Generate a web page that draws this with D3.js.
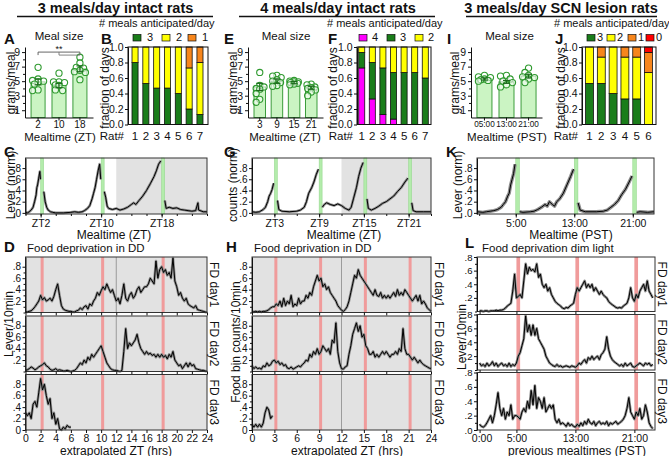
<!DOCTYPE html>
<html><head><meta charset="utf-8">
<script src="https://cdn.jsdelivr.net/npm/d3@7"></script>
<style>body{margin:0;background:#fff}</style>
</head><body><svg id="c" width="669" height="456"></svg>
<script>
// ================= DATA =================
const headers = ["3 meals/day intact rats", "4 meals/day intact rats", "3 meals/day SCN lesion rats"];
const legendTitle = "# meals anticipated/day";

// A: meal size, 3 meals/day intact
const mealTimesA = ["2", "10", "18"];
const meanA = [4.9, 4.4, 6.7];
const semA = [0.4, 0.3, 0.4];
const ratsA = [[6.9, 5.3, 5.0, 4.9, 4.6, 3.8, 3.7, 5.1], [6.1, 4.9, 4.8, 4.5, 4.4, 3.8, 3.7, 4.9], [8.3, 7.5, 6.9, 6.8, 6.5, 6.3, 5.2, 6.2]];
// E: meal size, 4 meals/day intact
const mealTimesE = ["3", "9", "15", "21"];
const meanE = [4.2, 5.0, 4.8, 4.1];
const semE = [0.5, 0.3, 0.15, 0.2];
const ratsE = [[6.2, 4.4, 4.2, 3.9, 3.3, 2.5, 2.1, 4.0], [5.8, 5.7, 5.5, 5.2, 5.0, 4.4, 4.3, 4.8], [5.1, 5.0, 4.9, 4.9, 4.7, 4.6, 4.5, 4.8], [4.6, 4.5, 4.2, 4.0, 3.8, 3.5, 3.0, 4.1]];
// I: meal size, SCN lesion
const mealTimesI = ["05:00", "13:00", "21:00"];
const meanI = [5.3, 4.9, 5.7];
const semI = [0.15, 0.2, 0.25];
const ratsI = [[5.8, 5.6, 5.5, 5.3, 5.2, 5.1, 5.0], [5.8, 5.7, 5.3, 5.0, 4.8, 4.5, 4.2], [6.8, 6.2, 5.8, 5.6, 5.5, 5.3, 4.8]];

// B: fraction of days by # meals anticipated
const ratsB = ["1", "2", "3", "4", "5", "6", "7"];
const keysB = ["3", "2", "1"];
const b3 = [0.8, 0.53, 0.47, 0.47, 0.4, 0.2, 0.13];
const b2 = [0.2, 0.47, 0.53, 0.53, 0.6, 0.53, 0.67];
const b1 = [0, 0, 0, 0, 0, 0.27, 0.2];
// F
const ratsF = ["1", "2", "3", "4", "5", "6", "7"];
const keysF = ["4", "3", "2"];
const f4 = [0.73, 0.33, 0.13, 0.07, 0, 0, 0];
const f3 = [0.2, 0.47, 0.6, 0.6, 0.67, 0.67, 0.6];
const f2 = [0.07, 0.2, 0.27, 0.33, 0.33, 0.33, 0.4];
// J
const ratsJ = ["1", "2", "3", "4", "5", "6"];
const keysJ = ["3", "2", "1", "0"];
const j3 = [0.53, 0.53, 0.4, 0.33, 0.33, 0];
const j2 = [0.47, 0.34, 0.6, 0.54, 0.54, 0.67];
const j1 = [0, 0.13, 0, 0.13, 0.13, 0.26];
const j0 = [0, 0, 0, 0, 0, 0.07];

// C/G/K: normalized anticipatory activity [time (h), value]; null = meal
const mealsC = [2, 10, 18];
const leverC = [[0,0.01],[0.25,0.0],[0.5,0.02],[0.75,0.05],[1,0.1],[1.2,0.2],[1.4,0.32],[1.5,0.45],[1.6,0.5],[1.75,0.62],[1.9,0.74],[1.98,0.6],[2.0,null],[2.42,0.38],[2.6,0.2],[2.8,0.1],[3.0,0.05],[3.3,0.02],[3.6,0.01],[4,0.0],[5,0.0],[6,0.01],[6.5,0.02],[7,0.01],[7.5,0.02],[7.8,0.04],[8.2,0.08],[8.5,0.13],[8.8,0.25],[9.0,0.35],[9.2,0.45],[9.4,0.6],[9.6,0.75],[9.8,0.87],[9.95,0.6],[10,null],[10.42,0.38],[10.6,0.28],[10.8,0.12],[11,0.08],[11.5,0.06],[12,0.08],[12.5,0.05],[13,0.07],[13.5,0.1],[14,0.15],[14.3,0.18],[14.6,0.15],[15,0.22],[15.5,0.3],[16,0.4],[16.5,0.52],[17,0.65],[17.3,0.75],[17.6,0.87],[17.9,0.93],[18,null],[18.42,0.22],[18.6,0.08],[19,0.1],[19.5,0.08],[20,0.09],[20.5,0.06],[21,0.05],[21.5,0.04],[22,0.03],[22.5,0.04],[22.8,0.18],[22.9,0.05],[23.5,0.02],[24,0.02]];
const mealsG = [3, 9, 15, 21];
const countsG = [[0,0.02],[0.5,0.01],[1,0.02],[1.5,0.06],[1.8,0.1],[2.1,0.2],[2.3,0.3],[2.5,0.35],[2.7,0.42],[2.9,0.53],[3,null],[3.42,0.22],[3.6,0.06],[4,0.03],[5,0.02],[6,0.03],[6.5,0.05],[7,0.1],[7.3,0.2],[7.6,0.35],[8,0.45],[8.3,0.55],[8.6,0.68],[8.9,0.78],[9,null],[9.42,0.1],[9.7,0.15],[10,0.18],[10.5,0.15],[11,0.13],[11.5,0.16],[12,0.13],[12.5,0.08],[13,0.05],[13.3,0.1],[13.6,0.25],[14,0.45],[14.3,0.65],[14.6,0.8],[14.9,0.9],[15,null],[15.42,0.25],[15.6,0.08],[16,0.05],[16.5,0.08],[17,0.12],[17.5,0.17],[18,0.2],[18.5,0.25],[19,0.3],[19.5,0.38],[20,0.45],[20.5,0.55],[20.9,0.62],[21,null],[21.42,0.18],[21.6,0.04],[22,0.02],[23,0.02],[24,0.02]];
const mealsK = [5, 13, 21];
const leverK = [[-0.3,0.02],[0.5,0.01],[1,0.02],[1.5,0.03],[2,0.04],[2.5,0.06],[3,0.1],[3.3,0.15],[3.6,0.2],[3.9,0.3],[4.1,0.35],[4.3,0.5],[4.5,0.6],[4.7,0.7],[4.9,0.87],[5,null],[5.52,0.02],[6,0.01],[7,0.02],[7.5,0.03],[8,0.06],[8.5,0.1],[9,0.15],[9.3,0.12],[9.6,0.2],[10,0.15],[10.3,0.12],[10.6,0.2],[11,0.25],[11.5,0.35],[12,0.5],[12.5,0.65],[12.9,0.78],[13,null],[13.52,0.18],[13.8,0.05],[14.5,0.02],[16,0.02],[17,0.03],[17.5,0.05],[18,0.1],[18.5,0.15],[19,0.22],[19.5,0.33],[20,0.42],[20.5,0.55],[20.9,0.66],[21,null],[21.52,0.01],[22,0.02],[23,0.01],[23.9,0.02]];

// D/H/L: food deprivation, values every 0.25 h starting at 0
const fdD1 = [0.01,0.01,0.02,0.03, 0.06,0.1,0.15,0.2, 0.3,0.22,0.26,0.2, 0.22,0.25,0.2,0.28, 0.4,0.5,0.3,0.12, 0.06,0.04,0.03,0.02, 0.02,0.01,0.01,0.03, 0.04,0.08,0.05,0.1, 0.12,0.06,0.15,0.12, 0.2,0.25,0.35,0.3, 0.38,0.45,0.4,0.5, 0.42,0.35,0.4,0.3, 0.2,0.25,0.15,0.3, 0.5,0.25,0.2,0.3, 0.35,0.25,0.3,0.4, 0.45,0.35,0.4,0.45, 0.45,0.5,0.6,0.55, 0.5,0.9,0.6,0.75, 0.8,0.7,0.75,0.65, 0.7,0.6,0.95,0.55, 0.45,0.3,0.35,0.25, 0.2,0.25,0.15,0.12, 0.1,0.08,0.12,0.05, 0.04,0.03,0.02,0.01, 0.0];
const fdD2 = [0.02,0.03,0.05,0.08, 0.06,0.03,0.05,0.08, 0.1,0.12,0.15,0.1, 0.08,0.04,0.02,0.03, 0.05,0.02,0.03,0.02, 0.01,0.01,0.02,0.01, 0.0,0.01,0.02,0.05, 0.1,0.15,0.12,0.2, 0.15,0.25,0.2,0.3, 0.25,0.3,0.35,0.4, 0.45,0.35,0.25,0.15, 0.1,0.05,0.03,0.02, 0.02,0.01,0.0,0.02, 0.35,0.75,0.4,0.5, 0.45,0.5,0.55,0.65, 0.5,0.4,0.35,0.3, 0.35,0.3,0.32,0.28, 0.3,0.25,0.3,0.25, 0.3,0.25,0.28,0.22, 0.3,0.25,0.35,0.2, 0.15,0.1,0.12,0.05, 0.1,0.15,0.08,0.15, 0.1,0.12,0.05,0.04, 0.03,0.02,0.02,0.01, 0.0];
const fdD3 = [0.3,0.25,0.3,0.2, 0.45,0.5,0.4,0.65, 0.9,0.7,0.8,0.6, 0.45,0.55,0.2,0.3, 0.1,0.2,0.02,0.0, 0.05,0.02,0.08,0.05, 0.05];
const fdH1 = [0.02,0.01,0.02,0.01, 0.02,0.01,0.02,0.02, 0.03,0.05,0.08,0.1, 0.1,0.15,0.12,0.2, 0.1,0.25,0.12,0.2, 0.15,0.3,0.1,0.15, 0.12,0.25,0.15,0.2, 0.2,0.3,0.25,0.35, 0.3,0.45,0.55,0.65, 0.55,0.6,0.45,0.5, 0.4,0.45,0.35,0.3, 0.25,0.2,0.12,0.08, 0.04,0.02,0.05,0.1, 0.2,0.35,0.5,0.65, 0.6,0.75,0.65,0.6, 0.55,0.5,0.45,0.4, 0.35,0.3,0.4,0.3, 0.28,0.35,0.25,0.3, 0.25,0.3,0.25,0.3, 0.35,0.28,0.4,0.3, 0.35,0.3,0.4,0.35, 0.3,0.25,0.2,0.25, 0.3,0.2,0.3,0.15, 0.2,0.15,0.08,0.05, 0.02];
const fdH2 = [0.1,0.05,0.08,0.05, 0.06,0.04,0.1,0.08, 0.15,0.1,0.12,0.18, 0.2,0.15,0.18,0.12, 0.15,0.1,0.12,0.06, 0.05,0.08,0.04,0.06, 0.08,0.1,0.08,0.12, 0.15,0.2,0.18,0.3, 0.25,0.35,0.3,0.4, 0.3,0.35,0.45,0.4, 0.35,0.4,0.3,0.55, 0.5,0.85,0.35,0.15, 0.05,0.04,0.08,0.1, 0.3,0.45,0.65,0.75, 0.85,0.7,0.8,0.6, 0.65,0.45,0.4,0.3, 0.3,0.35,0.25,0.3, 0.25,0.3,0.35,0.3, 0.35,0.3,0.25,0.3, 0.3,0.35,0.3,0.4, 0.35,0.75,0.4,0.3, 0.3,0.25,0.2,0.25, 0.2,0.15,0.2,0.15, 0.12,0.1,0.08,0.06, 0.05];
const fdH3 = [0.1,0.05,0.1,0.05, 0.1,0.05,0.12,0.3, 0.4,0.35,0.2,0.25];
const fdL1 = [0.01,0.01,0.0,0.01, 0.01,0.0,0.01,0.01, 0.01,0.02,0.01,0.02, 0.02,0.03,0.05,0.08, 0.1,0.12,0.3,0.55, 0.2,0.22,0.25,0.2, 0.45,0.7,0.55,0.65, 0.6,0.62,0.58,0.7, 0.5,0.55,0.4,0.35, 0.4,0.3,0.35,0.25, 0.2,0.15,0.12,0.1, 0.08,0.05,0.04,0.06, 0.05,0.08,0.1,0.12, 0.25,0.35,0.3,0.35, 0.4,0.45,0.35,0.4, 0.35,0.4,0.3,0.35, 0.3,0.25,0.3,0.25, 0.22,0.2,0.15,0.12, 0.1,0.08,0.06,0.05, 0.06,0.05,0.08,0.1, 0.12,0.2,0.35,0.2, 0.15,0.25,0.2,0.3, 0.35,0.4,0.3,0.45, 0.3,0.25,0.2];
const fdL2 = [0.1,0.06,0.08,0.05, 0.1,0.06,0.08,0.12, 0.06,0.1,0.05,0.08, 0.1,0.06,0.08,0.05, 0.1,0.05,0.08,0.06, 0.1,0.2,0.25,0.35, 0.45,0.78,0.55,0.65, 0.5,0.65,0.5,0.6, 0.45,0.4,0.35,0.3, 0.2,0.15,0.1,0.08, 0.06,0.05,0.08,0.05, 0.06,0.04,0.05,0.06, 0.05,0.04,0.06,0.05, 0.04,0.06,0.1,0.08, 0.12,0.15,0.1,0.18, 0.15,0.2,0.15,0.18, 0.2,0.15,0.22,0.25, 0.3,0.48,0.3,0.2, 0.15,0.12,0.1,0.08, 0.06,0.08,0.05,0.1, 0.06,0.08,0.1,0.05, 0.04,0.06,0.08,0.1, 0.08,0.06,0.1,0.08, 0.1,0.06,0.08];
const fdL3 = [0.08,0.05,0.04,0.06, 0.1,0.15,0.2,0.1, 0.2,0.35,0.52,0.3, 0.2,0.3,0.15,0.25, 0.2,0.35,0.15,0.2, 0.2,0.18,0.15,0.25, 0.3,0.25,0.4,0.3, 0.55,0.35,0.62,0.3, 0.45,0.4,0.3,0.45, 0.25,0.3,0.35,0.3, 0.35,0.15,0.1,0.15, 0.08,0.1,0.08,0.05, 0.1,0.06,0.08,0.05, 0.04,0.08,0.05,0.1, 0.06,0.12,0.08,0.15, 0.1,0.08,0.12,0.06, 0.1,0.12,0.08,0.1, 0.08,0.12,0.06,0.1, 0.08,0.1,0.12,0.08, 0.1,0.12,0.15,0.2, 0.3,0.45,0.25,0.2, 0.15,0.25,0.2,0.3, 0.15,0.2,0.35,0.25, 0.1,0.05,0.02];
const binStep = 0.25;

// ================= DRAWING =================
const FONT = '"Liberation Sans", Arial, Helvetica, sans-serif';
const INK = "#111";
const svg = d3.select("#c").attr("font-family", FONT);

function txt(x, y, s, o = {}) {
  const t = svg.append("text").attr("x", x).attr("y", y).text(s)
    .attr("font-size", o.size || 11).attr("text-anchor", o.anchor || "start")
    .attr("font-weight", o.bold ? "bold" : "normal").attr("fill", INK);
  if (o.rot) t.attr("transform", `rotate(${o.rot},${x},${y})`);
  return t;
}
function styleAxis(g, fs) {
  g.attr("font-family", FONT).attr("font-size", fs);
  g.selectAll("path.domain").attr("stroke", INK).attr("stroke-width", 1);
  g.selectAll("line").attr("stroke", INK);
  g.selectAll("text").attr("fill", INK);
}
const fmtDot = d => d3.format(".1f")(d).replace(/^0/, "");

// headers
const headerPos = [[115.5, 17, 213], [338, 239, 435], [561, 466, 657]];
headers.forEach((h, i) => {
  txt(headerPos[i][0], 12.5, h, { size: 14.5, bold: true, anchor: "middle" });
  svg.append("line").attr("x1", headerPos[i][1]).attr("x2", headerPos[i][2]).attr("y1", 16.5).attr("y2", 16.5).attr("stroke", INK).attr("stroke-width", 1.3);
});

// ---------- bar + dot panels ----------
function barPanel(c) {
  const x = d3.scaleBand().domain(c.cats).range([c.left, c.right]).paddingInner(c.padIn).paddingOuter(c.padOut);
  const y = d3.scaleLinear().domain([0, c.ymax]).range([c.bottom, c.top]);
  const g = svg.append("g");
  g.selectAll(null).data(c.means).join("rect")
    .attr("x", (d, i) => x(c.cats[i])).attr("y", d => y(d)).attr("width", x.bandwidth()).attr("height", d => y(0) - y(d))
    .attr("fill", "#cbf4c3").attr("stroke", "#3c9c3c").attr("stroke-width", 1);
  const r = 3.1;
  const maxOff = x.bandwidth() / 2 - 1.5;
  c.pts.forEach((vals, i) => {
    const cx = x(c.cats[i]) + x.bandwidth() / 2;
    const placed = [];
    vals.slice().sort((a, b) => b - a).forEach(v => {
      const py = y(v);
      let best = cx, bestD = -1;
      for (const o of [0, -1, 1, -2, 2]) {
        const tx = cx + Math.max(-maxOff, Math.min(maxOff, o * 3.6));
        const dmin = placed.length ? d3.min(placed, p => Math.hypot(p[0] - tx, p[1] - py)) : 99;
        if (dmin >= 4.6) { best = tx; bestD = 99; break; }
        if (dmin > bestD) { bestD = dmin; best = tx; }
      }
      placed.push([best, py]);
    });
    g.selectAll(null).data(placed).join("circle").attr("cx", d => d[0]).attr("cy", d => d[1]).attr("r", r)
      .attr("fill", "#fff").attr("fill-opacity", 0.55).attr("stroke", "#2f9a2f").attr("stroke-width", 1.1);
  });
  c.means.forEach((m, i) => {
    const cx = x(c.cats[i]) + x.bandwidth() / 2;
    const e = c.sems[i];
    g.append("line").attr("x1", cx).attr("x2", cx).attr("y1", y(m - e)).attr("y2", y(m + e)).attr("stroke", "#1d6a1d").attr("stroke-width", 1.2);
    [m - e, m + e].forEach(v => g.append("line").attr("x1", cx - 3.5).attr("x2", cx + 3.5).attr("y1", y(v)).attr("y2", y(v)).attr("stroke", "#1d6a1d").attr("stroke-width", 1.2));
  });
  g.append("g").attr("transform", `translate(${c.left},0)`)
    .call(d3.axisLeft(y).tickValues([1, 3, 5, 7, 9]).tickSize(3).tickSizeOuter(0).tickPadding(2))
    .call(s => styleAxis(s, 10.5));
  g.append("g").attr("transform", `translate(${c.left},0)`)
    .call(d3.axisLeft(y).tickValues([2, 4, 6, 8]).tickSize(2).tickFormat(""))
    .call(s => { styleAxis(s, 10); s.select("path.domain").remove(); });
  g.append("g").attr("transform", `translate(0,${c.bottom})`)
    .call(d3.axisBottom(x).tickSize(3).tickSizeOuter(0).tickPadding(0.5))
    .call(s => styleAxis(s, c.xfs));
  txt(c.letterX, 43.5, c.letter, { size: 15, bold: true });
  txt(c.titleX, 40, "Meal size", { size: 11.5, anchor: "middle" });
  txt(c.ylabX, 83, "grams/meal", { size: 12, anchor: "middle", rot: -90 });
  txt(c.xlabX, 141, c.xlab, { size: 11.5, anchor: "middle" });
  return { x, y, g };
}

const pA = barPanel({ cats: mealTimesA, means: meanA, sems: semA, pts: ratsA, left: 25, right: 93, padIn: 0.33, padOut: 0.29, top: 47, bottom: 117.5, ymax: 9.7, letter: "A", letterX: 4, titleX: 59, ylabX: 15, xlab: "Mealtime (ZT)", xlabX: 60, xfs: 10 });
// significance bracket in A
{
  const cx = i => pA.x(mealTimesA[i]) + pA.x.bandwidth() / 2;
  const yb = pA.y(9.0);
  pA.g.append("path").attr("d", `M${cx(0)},${yb + 3}V${yb}H${cx(2)}V${yb + 3}`).attr("fill", "none").attr("stroke", "#555").attr("stroke-width", 0.9);
  pA.g.append("path").attr("d", `M${cx(1)},${yb}V${yb + 3}H${cx(2)}`).attr("fill", "none").attr("stroke", "#777").attr("stroke-width", 0.9);
  txt((cx(0) + cx(2)) / 2, yb - 0.5, "**", { size: 9, anchor: "middle" });
}
barPanel({ cats: mealTimesE, means: meanE, sems: semE, pts: ratsE, left: 248, right: 323, padIn: 0.33, padOut: 0.35, top: 47, bottom: 117.5, ymax: 9.7, letter: "E", letterX: 224, titleX: 286, ylabX: 237, xlab: "Mealtime (ZT)", xlabX: 285, xfs: 10 });
barPanel({ cats: mealTimesI, means: meanI, sems: semI, pts: ratsI, left: 471, right: 542, padIn: 0.32, padOut: 0.27, top: 47, bottom: 117.5, ymax: 9.7, letter: "I", letterX: 447, titleX: 509.5, ylabX: 459, xlab: "Mealtime (PST)", xlabX: 507, xfs: 8.2 });

// ---------- stacked fraction panels ----------
const colorOf = { "4": "#ff00ff", "3": "#1a7d1a", "2": "#ffff00", "1": "#f7861c", "0": "#ff0000" };
function stackPanel(c) {
  const x = d3.scaleBand().domain(c.rats).range([c.left, c.bandRight]).paddingInner(c.padIn).paddingOuter(c.padOut);
  const y = d3.scaleLinear().domain([0, 1]).range([c.bottom, c.top]);
  const rows = c.rats.map((r, i) => { const o = { rat: r }; c.keys.forEach((k, j) => o[k] = c.series[j][i]); return o; });
  const layers = d3.stack().keys(c.keys)(rows);
  const g = svg.append("g");
  layers.forEach(L => {
    g.selectAll(null).data(L.filter(d => d[1] - d[0] > 0.001)).join("rect")
      .attr("x", d => x(d.data.rat)).attr("width", x.bandwidth())
      .attr("y", d => y(Math.min(d[1], 1))).attr("height", d => y(d[0]) - y(Math.min(d[1], 1)))
      .attr("fill", colorOf[L.key]).attr("stroke", INK).attr("stroke-width", 0.8);
  });
  g.append("rect").attr("x", c.left).attr("y", c.top).attr("width", c.right - c.left).attr("height", c.bottom - c.top)
    .attr("fill", "none").attr("stroke", INK).attr("stroke-width", 1);
  g.append("g").attr("transform", `translate(${c.left},0)`)
    .call(d3.axisLeft(y).tickValues([0, 0.2, 0.4, 0.6, 0.8, 1.0]).tickFormat(d3.format(".1f")).tickSize(3).tickSizeOuter(0).tickPadding(1.5))
    .call(s => styleAxis(s, 10.5));
  g.selectAll(null).data(c.rats).join("text").attr("x", d => x(d) + x.bandwidth() / 2).attr("y", 140)
    .attr("text-anchor", "middle").attr("font-size", 11.5).attr("fill", INK).text(d => d);
  txt(c.left - 4, 140, "Rat#", { size: 11.5, anchor: "end" });
  txt(c.letterX, 43.5, c.letter, { size: 15, bold: true });
  txt(c.ylabX, 88, "fraction of days", { size: 12, anchor: "middle", rot: -90 });
  txt(c.legX, 27, legendTitle, { size: 11 });
  c.keys.forEach((k, i) => {
    g.append("rect").attr("x", c.legBox[i]).attr("y", 34.5).attr("width", 8).attr("height", 6.5)
      .attr("fill", colorOf[k]).attr("stroke", INK).attr("stroke-width", 0.7);
    txt(c.legBox[i] + c.legGap, 41, k, { size: 11 });
  });
}
stackPanel({ rats: ratsB, keys: keysB, series: [b3, b2, b1], left: 128, right: 208, bandRight: 207, padIn: 0.44, padOut: 0.37, top: 47, bottom: 124.5, letter: "B", letterX: 101, ylabX: 109, legX: 99, legBox: [133, 162, 188], legGap: 14 });
stackPanel({ rats: ratsF, keys: keysF, series: [f4, f3, f2], left: 357, right: 431, bandRight: 430, padIn: 0.43, padOut: 0.16, top: 47, bottom: 124.5, letter: "F", letterX: 328, ylabX: 337, legX: 327, legBox: [359, 387, 415], legGap: 13 });
stackPanel({ rats: ratsJ, keys: keysJ, series: [j3, j2, j1, j0], left: 582, right: 656, bandRight: 656, padIn: 0.33, padOut: 0.3, top: 47, bottom: 124.5, letter: "J", letterX: 555, ylabX: 565, legX: 554, legBox: [587, 607, 628, 646], legGap: 10 });

// ---------- anticipatory activity line panels ----------
function drawTrace(g, pts, x, y, semW) {
  const line = d3.line().defined(d => d[1] != null).x(d => x(d[0])).y(d => y(d[1]));
  g.append("path").attr("d", line(pts)).attr("fill", "none").attr("stroke", "#8c8c8c").attr("stroke-width", semW).attr("stroke-linejoin", "round");
  g.append("path").attr("d", line(pts)).attr("fill", "none").attr("stroke", "#000").attr("stroke-width", 1).attr("stroke-linejoin", "round");
}
function linePanel(c) {
  const x = d3.scaleLinear().domain(c.xdom).range([c.left, c.right]);
  const y = d3.scaleLinear().domain([-0.02, 0.98]).range([c.bottom, c.top]);
  const g = svg.append("g");
  if (c.shadeFrom != null) g.append("rect").attr("x", x(c.shadeFrom)).attr("y", c.top).attr("width", c.right - x(c.shadeFrom)).attr("height", c.bottom - c.top).attr("fill", "#e2e2e2");
  c.meals.forEach(t => g.append("rect").attr("x", x(t)).attr("width", x(t + c.bandW) - x(t)).attr("y", c.top).attr("height", c.bottom - c.top)
    .attr("fill", "#b3ecab").attr("stroke", "#8fd487").attr("stroke-width", 0.5));
  drawTrace(g, c.data, x, y, c.semW);
  g.append("rect").attr("x", c.left).attr("y", c.top).attr("width", c.right - c.left).attr("height", c.bottom - c.top).attr("fill", "none").attr("stroke", "#333").attr("stroke-width", 1);
  g.append("g").attr("transform", `translate(${c.left},0)`)
    .call(d3.axisLeft(y).tickValues([0, 0.2, 0.4, 0.6, 0.8]).tickFormat(fmtDot).tickSize(3).tickSizeOuter(0).tickPadding(1.5))
    .call(s => styleAxis(s, 10));
  g.append("g").attr("transform", `translate(0,${c.bottom})`)
    .call(d3.axisBottom(x).tickValues(c.minor).tickSize(2).tickFormat(""))
    .call(s => { styleAxis(s, 10); s.select("path.domain").remove(); });
  g.append("g").attr("transform", `translate(0,${c.bottom})`)
    .call(d3.axisBottom(x).tickValues(c.meals).tickFormat(c.fmt).tickSize(3.5).tickSizeOuter(0).tickPadding(2))
    .call(s => { styleAxis(s, 10.5); s.select("path.domain").remove(); });
  txt(c.letterX, 157, c.letter, { size: 15, bold: true });
  txt(c.ylabX, 185, c.ylab, { size: 12, anchor: "middle", rot: -90 });
  txt(c.xlabX, 239, c.xlab, { size: 12, anchor: "middle" });
}
linePanel({ data: leverC, meals: mealsC, bandW: 0.4, xdom: [0, 24], left: 25.5, right: 207, top: 158, bottom: 214, shadeFrom: 12, minor: d3.range(0, 25, 2), fmt: d => "ZT" + d, letter: "C", letterX: 4, ylab: "Lever (norm)", ylabX: 15, xlab: "Mealtime (ZT)", xlabX: 114, semW: 2.6 });
linePanel({ data: countsG, meals: mealsG, bandW: 0.4, xdom: [0, 24], left: 252, right: 431, top: 158, bottom: 214, shadeFrom: 12, minor: d3.range(0, 25, 3), fmt: d => "ZT" + d, letter: "G", letterX: 224, ylab: "counts (norm)", ylabX: 237, xlab: "Mealtime (ZT)", xlabX: 344, semW: 2.6 });
linePanel({ data: leverK, meals: mealsK, bandW: 0.5, xdom: [-0.3, 23.9], left: 477, right: 654, top: 158, bottom: 214, shadeFrom: null, minor: [0, 5, 13, 21], fmt: d => d + ":00", letter: "K", letterX: 446, ylab: "Lever (norm)", ylabX: 462, xlab: "Mealtime (PST)", xlabX: 571, semW: 3.4 });

// ---------- food deprivation panels ----------
function fdPanel(c) {
  const x = d3.scaleLinear().domain(c.xdom).range([c.left, c.right]);
  c.subs.forEach((s, si) => {
    const y = d3.scaleLinear().domain([0, c.ymax]).range([s.bottom, s.top]);
    const g = svg.append("g");
    if (c.bg) g.append("rect").attr("x", c.left).attr("y", s.top).attr("width", c.right - c.left).attr("height", s.bottom - s.top).attr("fill", c.bg);
    c.meals.forEach(t => g.append("rect").attr("x", x(t)).attr("width", x(t + c.bandW) - x(t)).attr("y", s.top).attr("height", s.bottom - s.top).attr("fill", "#f09b9b"));
    if (s.vline) g.append("line").attr("x1", x(12)).attr("x2", x(12)).attr("y1", s.top).attr("y2", s.bottom).attr("stroke", "#8a8a8a").attr("stroke-width", 0.8);
    const pts = s.data.map((v, i) => [i * binStep, v]);
    drawTrace(g, pts, x, y, 2.6);
    g.append("rect").attr("x", c.left).attr("y", s.top).attr("width", c.right - c.left).attr("height", s.bottom - s.top).attr("fill", "none").attr("stroke", "#333").attr("stroke-width", 1);
    const major = si === 2 ? [0, 0.2, 0.4, 0.6, 0.8] : [0.2, 0.4, 0.6, 0.8];
    g.append("g").attr("transform", `translate(${c.left},0)`)
      .call(d3.axisLeft(y).tickValues(major).tickFormat(c.yfmt).tickSize(3).tickSizeOuter(0).tickPadding(1.5))
      .call(a => styleAxis(a, c.yfs));
    g.append("g").attr("transform", `translate(${c.left},0)`)
      .call(d3.axisLeft(y).tickValues([0.1, 0.3, 0.5, 0.7].concat(si === 2 ? [] : [0])).tickSize(2).tickFormat(""))
      .call(a => { styleAxis(a, 10); a.select("path.domain").remove(); });
    const xa = g.append("g").attr("transform", `translate(0,${s.bottom})`)
      .call(d3.axisBottom(x).tickValues(c.xticks).tickSize(3).tickSizeOuter(0).tickPadding(1.5).tickFormat(c.xfmt))
      .call(a => { styleAxis(a, 10.5); a.select("path.domain").remove(); });
    if (si !== 2) xa.selectAll("text").remove();
    else xa.selectAll("text").attr("dx", d => d === c.xticks[0] ? c.firstDx : 0);
    txt(c.fdX, (s.top + s.bottom) / 2, "FD day" + (si + 1), { size: 12, anchor: "middle", rot: 90 });
  });
  txt(c.letterX, c.letterY, c.letter, { size: 15, bold: true });
  txt(c.titleX, 252, c.title, { size: 11.5 });
  txt(c.ylabX, c.ylabY, c.ylab, { size: 12, anchor: "middle", rot: -90 });
  txt(c.xlabX, 454.5, c.xlab, { size: 12, anchor: "middle" });
}
const subsDH = [{ top: 257, bottom: 312.5 }, { top: 316, bottom: 371.5 }, { top: 374.5, bottom: 430 }];
const zeroFmt = d => d === 0 ? "0" : fmtDot(d);
fdPanel({ xdom: [0, 24], left: 25.5, right: 207, ymax: 0.97, bg: "#e2e2e2", meals: mealsC, bandW: 0.4,
  subs: [{ ...subsDH[0], data: fdD1, vline: true }, { ...subsDH[1], data: fdD2, vline: true }, { ...subsDH[2], data: fdD3, vline: false }],
  xticks: d3.range(0, 25, 2), xfmt: d => d, yfmt: zeroFmt, yfs: 10, firstDx: 0, fdX: 210, letter: "D", letterX: 4, letterY: 252, title: "Food deprivation in DD", titleX: 27,
  ylab: "Lever/10min", ylabX: 13, ylabY: 324, xlab: "extrapolated ZT (hrs)", xlabX: 116 });
fdPanel({ xdom: [0, 24], left: 252, right: 431, ymax: 0.97, bg: "#e2e2e2", meals: mealsG, bandW: 0.4,
  subs: [{ ...subsDH[0], data: fdH1, vline: true }, { ...subsDH[1], data: fdH2, vline: true }, { ...subsDH[2], data: fdH3, vline: true }],
  xticks: d3.range(0, 25, 3), xfmt: d => d, yfmt: zeroFmt, yfs: 10, firstDx: 0, fdX: 435, letter: "H", letterX: 226, letterY: 252, title: "Food deprivation in DD", titleX: 254,
  ylab: "Food bin counts/10min", ylabX: 240, ylabY: 342, xlab: "extrapolated ZT (hrs)", xlabX: 347 });
fdPanel({ xdom: [-0.35, 23.8], left: 477, right: 655, ymax: 0.8, bg: null, meals: mealsK, bandW: 0.5,
  subs: [{ top: 257, bottom: 311.5, data: fdL1 }, { top: 314.5, bottom: 370, data: fdL2 }, { top: 372.5, bottom: 430, data: fdL3 }],
  xticks: [0, 5, 13, 21], xfmt: d => d + ":00", yfmt: fmtDot, yfs: 9.5, firstDx: 2, fdX: 658, letter: "L", letterX: 465, letterY: 248, title: "Food deprivation dim light", titleX: 482,
  ylab: "Lever/10min", ylabX: 466, ylabY: 337, xlab: "previous mealtimes (PST)", xlabX: 577 });
</script></body></html>
